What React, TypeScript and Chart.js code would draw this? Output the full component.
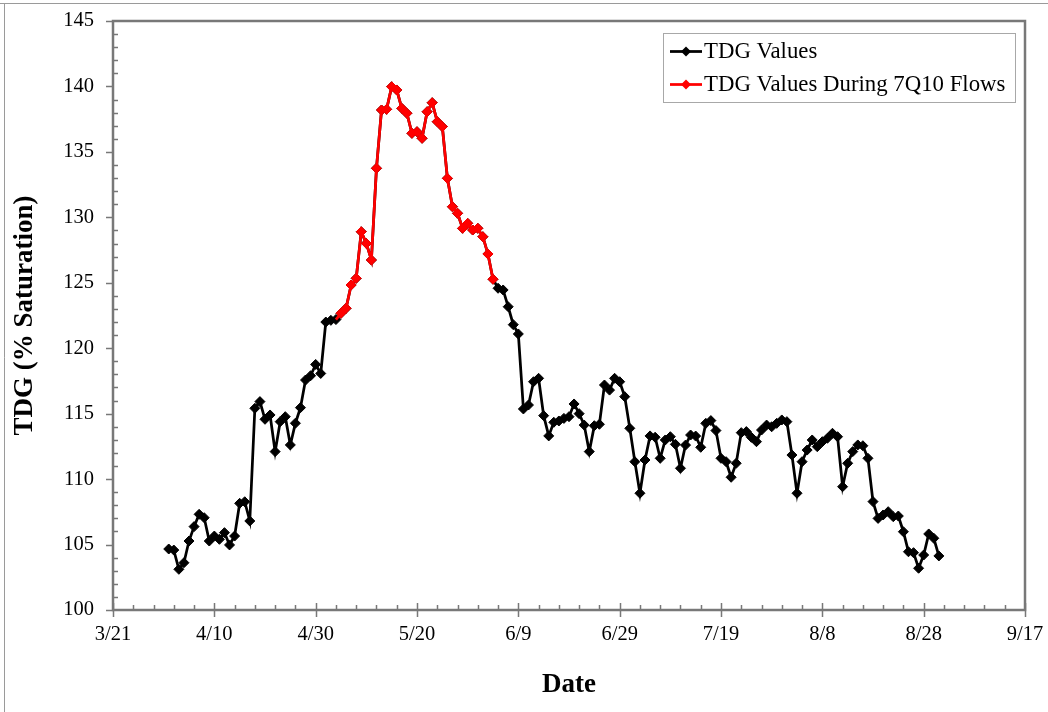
import React, { useEffect, useRef } from 'react';
import { Chart, registerables } from 'chart.js';

Chart.register(...registerables);

// Days are counted from 3/21; the first measurement is day 11 (4/1), then daily.
const START_DAY = 11;
const tdgValues = [
  104.66, 104.58, 103.11, 103.61, 105.27, 106.37, 107.31, 107.05, 105.27, 105.65,
  105.4, 105.91, 104.97, 105.65, 108.15, 108.27, 106.8, 115.41, 115.92, 114.57,
  114.9, 112.1, 114.39, 114.77, 112.61, 114.27, 115.46, 117.57, 117.9, 118.76,
  118.07, 122.0, 122.13, 122.19, 122.67, 123.05, 124.83, 125.34, 128.9, 128.01,
  126.74, 133.75, 138.2, 138.25, 139.98, 139.73, 138.33, 137.95, 136.42, 136.54,
  136.04, 138.07, 138.76, 137.31, 136.93, 132.98, 130.81, 130.31, 129.16, 129.54,
  129.03, 129.16, 128.52, 127.2, 125.27, 124.58, 124.45, 123.17, 121.8, 121.09,
  115.36, 115.66, 117.44, 117.7, 114.85, 113.3, 114.34, 114.44, 114.64, 114.77,
  115.74, 115.0, 114.13, 112.1, 114.08, 114.19, 117.19, 116.8, 117.7, 117.44,
  116.3, 113.88, 111.33, 108.92, 111.46, 113.3, 113.2, 111.59, 112.99, 113.24,
  112.66, 110.83, 112.6, 113.37, 113.29, 112.43, 114.26, 114.47, 113.71, 111.59,
  111.33, 110.14, 111.21, 113.55, 113.63, 113.19, 112.86, 113.75, 114.13, 114.0,
  114.26, 114.52, 114.39, 111.84, 108.92, 111.33, 112.22, 112.99, 112.48, 112.86,
  113.12, 113.5, 113.24, 109.42, 111.21, 112.1, 112.61, 112.55, 111.59, 108.28,
  107.0, 107.26, 107.51, 107.13, 107.18, 105.98, 104.45, 104.38, 103.19, 104.2,
  105.81, 105.48, 104.13,
];

// 7Q10 flow period: days 44 (5/4, joining point) through 75 (6/4)
const FLOW_START_DAY = 44;
const flowValues = [
  122.19, 122.67, 123.05, 124.83, 125.34, 128.9, 128.01, 126.74, 133.75, 138.2,
  138.25, 139.98, 139.73, 138.33, 137.95, 136.42, 136.54, 136.04, 138.07, 138.76,
  137.31, 136.93, 132.98, 130.81, 130.31, 129.16, 129.54, 129.03, 129.16, 128.52,
  127.2, 125.27,
];

const xTickLabels = ['3/21', '4/10', '4/30', '5/20', '6/9', '6/29', '7/19', '8/8', '8/28', '9/17'];
const X_MAJOR = 20;
const X_MINOR = 4;
const X_MAX = 180;
const Y_MIN = 100;
const Y_MAX = 145;
const Y_MAJOR = 5;
const Y_MINOR = 1;

const seriesLabels = ['TDG Values', 'TDG Values During 7Q10 Flows'];
const seriesColors = ['#000000', '#ff0000'];

const SERIF = '"Liberation Serif", "Times New Roman", serif';
const AXIS_GRAY = '#787878';
const LINE_W = 2.75;
const MARK_R = 5;

const drawDiamond = (ctx: CanvasRenderingContext2D, x: number, y: number, r: number, color: string) => {
  ctx.beginPath();
  ctx.moveTo(x - r, y);
  ctx.lineTo(x, y - r);
  ctx.lineTo(x + r, y);
  ctx.lineTo(x, y + r);
  ctx.closePath();
  ctx.fillStyle = color;
  ctx.fill();
};

const framePlugin = {
  id: 'excelFrame',
  beforeDraw(chart: any) {
    const { ctx, width, height } = chart;
    ctx.save();
    ctx.fillStyle = '#ffffff';
    ctx.fillRect(0, 0, width, height);
    ctx.strokeStyle = '#9a9a9a';
    ctx.lineWidth = 1;
    ctx.beginPath();
    ctx.moveTo(0, 3.5);
    ctx.lineTo(width, 3.5);
    ctx.moveTo(4.5, 3.5);
    ctx.lineTo(4.5, height);
    ctx.stroke();
    ctx.restore();
  },
  beforeDatasetsDraw(chart: any) {
    const { ctx, chartArea, scales } = chart;
    const { left, right, top, bottom } = chartArea;
    const xs = scales.x;
    const ys = scales.y;
    ctx.save();
    ctx.strokeStyle = AXIS_GRAY;
    ctx.lineWidth = 1.5;
    ctx.beginPath();
    for (let d = 0; d <= X_MAX; d += X_MINOR) {
      const px = Math.round(xs.getPixelForValue(d)) + 0.5;
      if (d % X_MAJOR === 0) {
        ctx.moveTo(px, bottom - 7);
        ctx.lineTo(px, bottom + 7);
      } else {
        ctx.moveTo(px, bottom - 5);
        ctx.lineTo(px, bottom);
      }
    }
    for (let v = Y_MIN; v <= Y_MAX; v += Y_MINOR) {
      const py = Math.round(ys.getPixelForValue(v)) + 0.5;
      if ((v - Y_MIN) % Y_MAJOR === 0) {
        ctx.moveTo(left - 7, py);
        ctx.lineTo(left + 1, py);
      } else {
        ctx.moveTo(left, py);
        ctx.lineTo(left + 5, py);
      }
    }
    ctx.stroke();
    ctx.lineWidth = 2.5;
    ctx.strokeRect(left, top, right - left, bottom - top);
    ctx.restore();
  },
  afterDraw(chart: any) {
    const { ctx } = chart;
    const box = { x: 663.5, y: 33.5, w: 352, h: 69 };
    ctx.save();
    ctx.fillStyle = '#ffffff';
    ctx.fillRect(box.x, box.y, box.w, box.h);
    ctx.strokeStyle = '#a8a8a8';
    ctx.lineWidth = 1;
    ctx.strokeRect(box.x, box.y, box.w, box.h);
    const rows = [51.5, 84.5];
    seriesLabels.forEach((label, i) => {
      const y = rows[i];
      ctx.strokeStyle = seriesColors[i];
      ctx.lineWidth = LINE_W;
      ctx.beginPath();
      ctx.moveTo(670, y);
      ctx.lineTo(702, y);
      ctx.stroke();
      drawDiamond(ctx, 686, y, 5, seriesColors[i]);
      ctx.fillStyle = '#000000';
      ctx.font = `22.8px ${SERIF}`;
      ctx.textAlign = 'left';
      ctx.textBaseline = 'middle';
      ctx.fillText(label, 704, y + 1);
    });
    ctx.restore();
  },
};

export default function App() {
  const canvasRef = useRef<HTMLCanvasElement | null>(null);

  useEffect(() => {
    const canvas = canvasRef.current;
    if (!canvas) return;
    const tdgPoints = tdgValues.map((v, i) => ({ x: START_DAY + i, y: v }));
    const flowPoints = flowValues.map((v, i) => ({ x: FLOW_START_DAY + i, y: v }));

    const chart = new Chart(canvas, {
      type: 'line',
      data: {
        datasets: [
          {
            label: seriesLabels[0],
            data: tdgPoints,
            borderColor: seriesColors[0],
            backgroundColor: seriesColors[0],
            borderWidth: LINE_W,
            pointStyle: 'rectRot',
            pointRadius: MARK_R,
            pointBorderWidth: 1,
            pointBackgroundColor: seriesColors[0],
            pointBorderColor: seriesColors[0],
            tension: 0,
            order: 2,
          },
          {
            label: seriesLabels[1],
            data: flowPoints,
            borderColor: seriesColors[1],
            backgroundColor: seriesColors[1],
            borderWidth: LINE_W,
            pointStyle: 'rectRot',
            pointRadius: flowPoints.map((_, i) => (i === 0 ? 0 : MARK_R)),
            pointBorderWidth: 1,
            pointBackgroundColor: seriesColors[1],
            pointBorderColor: seriesColors[1],
            tension: 0,
            order: 1,
          },
        ],
      },
      options: {
        animation: false,
        responsive: false,
        devicePixelRatio: 1,
        layout: { padding: { top: 21, right: 23, left: 0, bottom: 0 } },
        plugins: {
          legend: { display: false },
          tooltip: { enabled: false },
        },
        scales: {
          x: {
            type: 'linear',
            min: 0,
            max: X_MAX,
            grid: { display: false, drawTicks: false },
            border: { display: false },
            ticks: {
              stepSize: X_MAJOR,
              autoSkip: false,
              maxRotation: 0,
              padding: 12,
              color: '#000000',
              font: { family: SERIF, size: 20.5 },
              callback: (value: any) => xTickLabels[Math.round(Number(value) / X_MAJOR)] ?? '',
            },
            title: {
              display: true,
              text: 'Date',
              color: '#000000',
              font: { family: SERIF, size: 27, weight: 'bold' },
              padding: { top: 0, bottom: 11 },
            },
            afterFit: (scale: any) => {
              scale.height = 102;
              scale.paddingLeft = 0;
              scale.paddingRight = 0;
            },
          },
          y: {
            type: 'linear',
            min: Y_MIN,
            max: Y_MAX,
            grid: { display: false, drawTicks: false },
            border: { display: false },
            ticks: {
              stepSize: Y_MAJOR,
              padding: 19,
              color: '#000000',
              font: { family: SERIF, size: 20.5 },
            },
            title: {
              display: true,
              text: 'TDG (% Saturation)',
              color: '#000000',
              font: { family: SERIF, size: 27, weight: 'bold' },
              padding: { top: 9, bottom: 0 },
            },
            afterFit: (scale: any) => {
              scale.width = 113;
              scale.paddingTop = 0;
              scale.paddingBottom = 0;
            },
          },
        },
      },
      plugins: [framePlugin],
    });

    return () => chart.destroy();
  }, []);

  return (
    <div style={{ position: 'fixed', left: 0, top: 0, width: 1048, height: 712, background: '#ffffff' }}>
      <canvas ref={canvasRef} width={1048} height={712} style={{ width: 1048, height: 712, display: 'block' }} />
    </div>
  );
}
